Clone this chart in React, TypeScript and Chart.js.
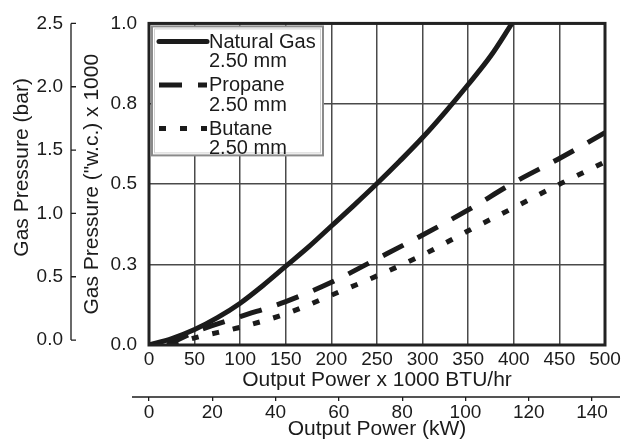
import React, { useEffect, useRef } from 'react';
import { Chart, registerables } from 'chart.js';

Chart.register(...registerables);

// ---- data ----
const btuTicks = [0, 50, 100, 150, 200, 250, 300, 350, 400, 450, 500];
const kwTicks = [0, 20, 40, 60, 80, 100, 120, 140];
const wcTicks = [0, 0.25, 0.5, 0.75, 1.0];
const barTicks = [0, 0.5, 1.0, 1.5, 2.0, 2.5];

const seriesNames = ['Natural Gas', 'Propane', 'Butane'];
const orificeSize = '2.50 mm';
const barTitle = 'Gas Pressure (bar)';

const natGasX = [0, 25, 50, 75, 100, 125, 150, 175, 200, 225, 250, 275, 300, 325, 350, 375, 398];
const natGasY = [0, 0.02, 0.048, 0.085, 0.13, 0.185, 0.245, 0.305, 0.37, 0.435, 0.502, 0.572, 0.645, 0.725, 0.81, 0.9, 1.0];

const propaneX = [20, 50, 100, 150, 200, 250, 300, 350, 400, 450, 500];
const propaneY = [0, 0.04, 0.088, 0.135, 0.195, 0.268, 0.342, 0.42, 0.505, 0.58, 0.66];

const butaneX = [25, 50, 100, 150, 200, 250, 300, 350, 400, 450, 500];
const butaneY = [0, 0.022, 0.055, 0.097, 0.155, 0.215, 0.28, 0.355, 0.427, 0.5, 0.569];

const KW_MAX = 144.1;
const BAR_MIN = -0.0387;

const FONT = "'Liberation Sans', Arial, Helvetica, sans-serif";
const INK = '#1b1b1b';
const GRID = '#4a4a4a';

const dashes: number[][] = [[], [23, 16], [7, 14]];

const toPts = (xs: number[], ys: number[]) => xs.map((x, i) => ({ x, y: ys[i] }));

const decorPlugin = {
  id: 'decor',
  afterDatasetsDraw(chart: any) {
    const { ctx, chartArea } = chart;
    const { left, top, right, bottom } = chartArea;
    ctx.save();
    // frame
    ctx.strokeStyle = '#222';
    ctx.lineWidth = 3;
    ctx.strokeRect(left, top, right - left, bottom - top);

    // legend box
    const bx = left + 3;
    const by = top + 3;
    const bw = 171;
    const bh = 129;
    ctx.fillStyle = '#fff';
    ctx.fillRect(bx, by, bw, bh);
    ctx.strokeStyle = '#8a8a8a';
    ctx.lineWidth = 2;
    ctx.strokeRect(bx, by, bw, bh);
    ctx.strokeStyle = '#d0d0d0';
    ctx.lineWidth = 1;
    ctx.strokeRect(bx + 2.5, by + 2.5, bw - 5, bh - 5);

    chart.data.datasets.forEach((ds: any, i: number) => {
      const cy = by + 15 + i * 43.5;
      ctx.beginPath();
      ctx.setLineDash(ds.borderDash || []);
      ctx.lineDashOffset = 0;
      ctx.lineCap = i === 0 ? 'round' : 'butt';
      ctx.strokeStyle = INK;
      ctx.lineWidth = 5;
      ctx.moveTo(bx + 7, cy);
      ctx.lineTo(bx + 55, cy);
      ctx.stroke();
      ctx.setLineDash([]);
      ctx.fillStyle = INK;
      ctx.font = `20px ${FONT}`;
      ctx.textAlign = 'left';
      ctx.textBaseline = 'middle';
      ctx.fillText(ds.label, bx + 57, cy + 1);
      ctx.fillText(orificeSize, bx + 57, cy + 20.5);
    });
    ctx.restore();
  },
  afterDraw(chart: any) {
    const { ctx, chartArea, scales } = chart;
    ctx.save();
    ctx.strokeStyle = INK;
    ctx.lineWidth = 1.3;
    // bar axis line with inward ticks
    const bar = scales.bar;
    const x0 = bar.right;
    const yA = bar.getPixelForValue(0);
    const yB = bar.getPixelForValue(2.5);
    ctx.beginPath();
    ctx.moveTo(x0, yA);
    ctx.lineTo(x0, yB);
    barTicks.forEach((v) => {
      const y = bar.getPixelForValue(v);
      ctx.moveTo(x0, y);
      ctx.lineTo(x0 + 5, y);
    });
    ctx.stroke();
    // bar axis title (sits a little above the axis centre in the reference)
    ctx.save();
    ctx.translate(bar.left + 22, chartArea.top + 144);
    ctx.rotate(-Math.PI / 2);
    ctx.fillStyle = INK;
    ctx.font = `21px ${FONT}`;
    ctx.textAlign = 'center';
    ctx.textBaseline = 'middle';
    ctx.fillText(barTitle, 0, 0);
    ctx.restore();
    // kW axis line extending beyond the plot
    const kw = scales.kw;
    ctx.beginPath();
    ctx.moveTo(chartArea.left - 17, kw.top);
    ctx.lineTo(chartArea.right + 15, kw.top);
    ctx.stroke();
    ctx.restore();
  },
};

export default function App() {
  const ref = useRef<HTMLCanvasElement | null>(null);

  useEffect(() => {
    document.body.style.margin = '0';
    if (!ref.current) return;
    const tickFont = { family: FONT, size: 19 };
    const titleFont = { family: FONT, size: 21, lineHeight: 1 };
    const chart = new Chart(ref.current, {
      type: 'line',
      data: {
        datasets: [
          { label: seriesNames[0], data: toPts(natGasX, natGasY) },
          { label: seriesNames[1], data: toPts(propaneX, propaneY) },
          { label: seriesNames[2], data: toPts(butaneX, butaneY) },
        ].map((d, i) => ({
          ...d,
          borderColor: INK,
          backgroundColor: INK,
          borderWidth: 5,
          borderDash: dashes[i],
          borderCapStyle: 'butt',
          pointRadius: 0,
          fill: false,
          cubicInterpolationMode: 'monotone',
          xAxisID: 'x',
          yAxisID: 'y',
        })) as any,
      },
      options: {
        responsive: false,
        animation: false,
        layout: { padding: { top: 17, right: 25, left: 0, bottom: 0 } },
        plugins: { legend: { display: false }, tooltip: { enabled: false } },
        scales: {
          x: {
            type: 'linear',
            position: 'bottom',
            min: 0,
            max: 500,
            weight: 0,
            afterBuildTicks: (s: any) => {
              s.ticks = btuTicks.map((v) => ({ value: v }));
            },
            afterFit: (s: any) => {
              s.height = 52;
            },
            grid: { color: GRID, lineWidth: 1.5, drawTicks: false },
            border: { display: false },
            ticks: {
              padding: 3,
              color: INK,
              font: tickFont,
              maxRotation: 0,
              autoSkip: false,
              callback: (v: any) => String(v),
            },
            title: {
              display: true,
              text: 'Output Power x 1000 BTU/hr',
              color: INK,
              font: titleFont,
              padding: { top: 0, bottom: 6.5 },
            },
          },
          kw: {
            type: 'linear',
            position: 'bottom',
            min: 0,
            max: KW_MAX,
            weight: 1,
            afterBuildTicks: (s: any) => {
              s.ticks = kwTicks.map((v) => ({ value: v }));
            },
            afterFit: (s: any) => {
              s.height = 47;
            },
            grid: { drawOnChartArea: false, drawTicks: true, tickLength: 4, color: INK, lineWidth: 1.3 },
            border: { display: false },
            ticks: {
              padding: 0,
              color: INK,
              font: tickFont,
              maxRotation: 0,
              autoSkip: false,
              callback: (v: any) => String(v),
            },
            title: {
              display: true,
              text: 'Output Power (kW)',
              color: INK,
              font: titleFont,
              padding: { top: 0, bottom: 4.5 },
            },
          },
          y: {
            type: 'linear',
            position: 'left',
            min: 0,
            max: 1,
            weight: 0,
            afterBuildTicks: (s: any) => {
              s.ticks = wcTicks.map((v) => ({ value: v }));
            },
            afterFit: (s: any) => {
              s.width = 78;
            },
            grid: { color: GRID, lineWidth: 1.5, drawTicks: false },
            border: { display: false },
            ticks: {
              padding: 12,
              color: INK,
              font: tickFont,
              callback: (v: any) => Number(v).toFixed(1),
            },
            title: {
              display: true,
              text: 'Gas Pressure ("w.c.) x 1000',
              color: INK,
              font: titleFont,
              padding: { top: 10.5, bottom: 0 },
            },
          },
          bar: {
            type: 'linear',
            position: 'left',
            min: BAR_MIN,
            max: 2.5,
            weight: 1,
            afterBuildTicks: (s: any) => {
              s.ticks = barTicks.map((v) => ({ value: v }));
            },
            afterFit: (s: any) => {
              s.width = 71;
            },
            grid: { display: false, drawOnChartArea: false, drawTicks: false },
            border: { display: false },
            ticks: {
              padding: 8,
              color: INK,
              font: tickFont,
              callback: (v: any) => Number(v).toFixed(1),
            },
            title: { display: false },
          },
        } as any,
      },
      plugins: [decorPlugin],
    });
    return () => chart.destroy();
  }, []);

  return (
    <div style={{ width: 630, height: 444, background: '#fff' }}>
      <canvas ref={ref} width={630} height={444} />
    </div>
  );
}
